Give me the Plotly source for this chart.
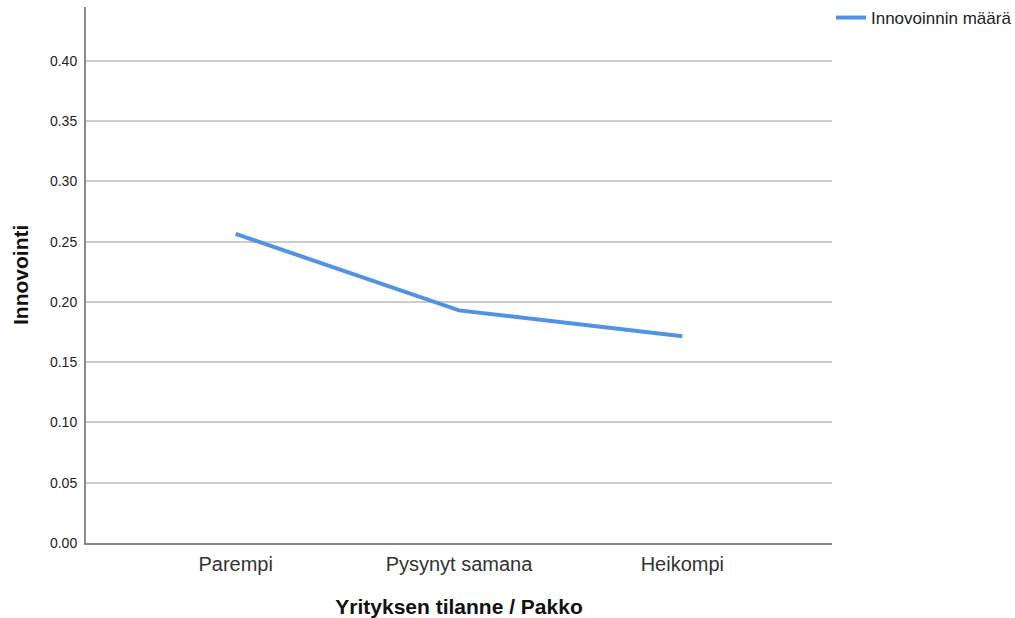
import plotly.graph_objects as go

categories = ["Parempi", "Pysynyt samana", "Heikompi"]
values = [0.2565, 0.1930, 0.1716]
series_name = "Innovoinnin määrä"
y_ticks = [0.00, 0.05, 0.10, 0.15, 0.20, 0.25, 0.30, 0.35, 0.40]
x_title = "Yrityksen tilanne / Pakko"
y_title = "Innovointi"

fig = go.Figure()
fig.add_trace(go.Scatter(
    x=list(range(len(categories))), y=values, mode="lines", name=series_name,
    line=dict(color="#5093e6", width=4), showlegend=True,
))

fig.update_layout(
    width=1015, height=618,
    paper_bgcolor="white", plot_bgcolor="white",
    margin=dict(l=86, r=183, t=7, b=75, autoexpand=False),
    font=dict(family="Liberation Sans, Arial, sans-serif", color="#222"),
    showlegend=True,
    legend=dict(xref="container", yref="container", x=0.8187, y=1.0,
                xanchor="left", yanchor="top",
                font=dict(size=17, family="Liberation Sans, Arial"),
                bgcolor="rgba(0,0,0,0)", itemwidth=30, tracegroupgap=0),
    xaxis=dict(
        tickmode="array", tickvals=list(range(len(categories))), ticktext=categories,
        range=[-0.67, 2.67], showgrid=False, zeroline=False,
        showline=True, linecolor="#888", linewidth=2,
        ticks="", tickfont=dict(size=20, color="#333"), ticklabelstandoff=2,
        title=dict(text=f"<b>{x_title}</b>", font=dict(size=21, color="#111"), standoff=27),
    ),
    yaxis=dict(
        range=[0, 0.4447], tickmode="array", tickvals=y_ticks,
        ticktext=[f"{v:.2f}" for v in y_ticks],
        showgrid=True, gridcolor="#cccccc", gridwidth=2, zeroline=False,
        showline=True, linecolor="#888", linewidth=2,
        ticks="", tickfont=dict(size=14, color="#222"), ticklabelstandoff=4,
    ),
    annotations=[dict(
        text=f"<b>{y_title}</b>", xref="paper", yref="paper",
        x=-0.0885, y=0.5, xanchor="center", yanchor="middle",
        textangle=-90, showarrow=False, font=dict(size=21, color="#111"),
    )],
)

fig.write_html("out.html", config={"displayModeBar": False},
               post_script="document.body.style.margin='0px';")
